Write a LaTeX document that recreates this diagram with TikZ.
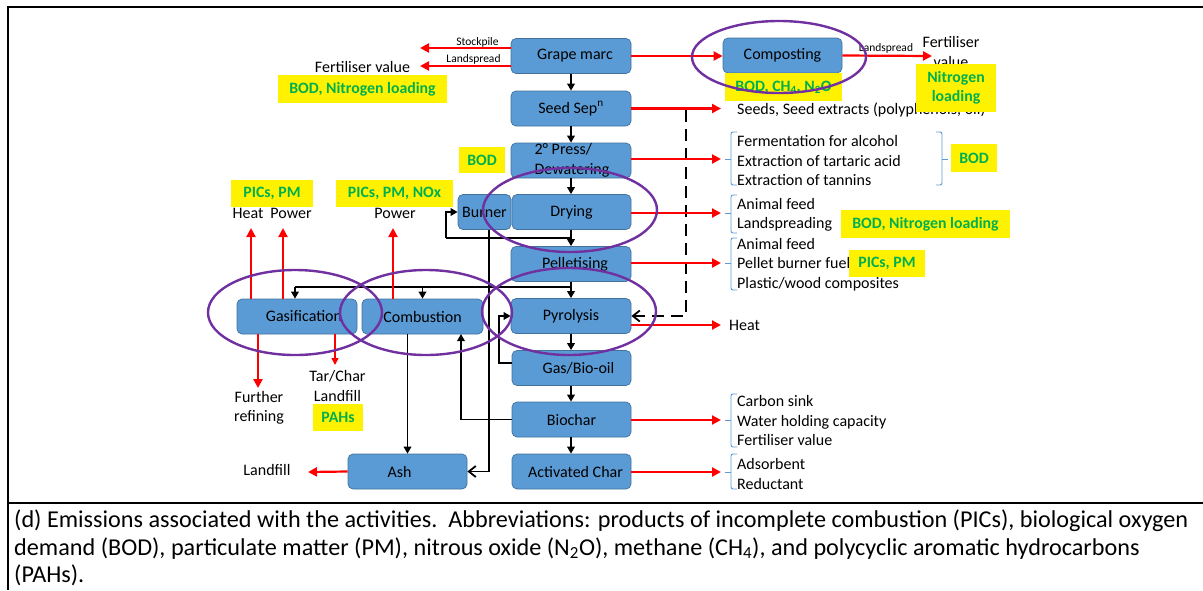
\documentclass[tikz,border=0pt]{standalone}
\usepackage{fontspec}
\setmainfont{Carlito}
\usetikzlibrary{arrows.meta}
\definecolor{boxblue}{HTML}{5B9BD5}
\definecolor{boxedge}{HTML}{41719C}
\definecolor{purp}{HTML}{7030A0}
\definecolor{grn}{HTML}{00B050}
\definecolor{brkblue}{HTML}{5B9BD5}
\newcommand{\fmain}{\fontsize{16}{19.5}\selectfont}
\newcommand{\fsmall}{\fontsize{11.5}{13}\selectfont}
\newcommand{\femis}{\bfseries\fontsize{15.8}{19.5}\selectfont}
\newcommand{\fcap}{\fontsize{24.2}{27.5}\selectfont}
\begin{document}
\begin{tikzpicture}[x=1pt,y=-1pt,
  proc/.style={draw=boxedge, line width=0.7pt, fill=boxblue, rounded corners=5pt,
    minimum width=120pt, minimum height=35pt, inner sep=0pt, font=\fmain},
  emis/.style={fill=yellow, text=grn, font=\femis, inner sep=0pt, align=center},
  lab/.style={font=\fmain, inner sep=0pt, align=left},
  labc/.style={font=\fmain, inner sep=0pt, align=center},
  small/.style={font=\fsmall, inner sep=0pt},
  rar/.style={draw=red, line width=2.2pt, -{Triangle[length=9pt,width=9pt]}},
  rarthin/.style={draw=red, line width=1.4pt, -{Triangle[length=7pt,width=7pt]}},
  bar/.style={draw=black, line width=1.8pt, -{Triangle[length=7pt,width=7.5pt]}},
  bline/.style={draw=black, line width=1.8pt},
  barb/.style={draw=black, line width=1.8pt, -{Straight Barb[length=7pt,width=11pt]}},
  ell/.style={draw=purp, line width=2.4pt},
  brk/.style={draw=brkblue, line width=0.9pt, rounded corners=2pt},
  frame/.style={draw=black, line width=2.5pt}
]
\useasboundingbox (0,0) rectangle (1203,590);

% frame
\draw[frame] (1203,7) -- (8,7) -- (8,590);
\draw[frame] (8,503) -- (1203,503);

% process boxes
\node[proc] (gm) at (571,56) {\hspace*{8pt}Grape marc};
\node[proc] (seed) at (571,108.5) {Seed Sep\textsuperscript{n}};
\node[proc] (press) at (571,160.5) {};
\node[proc, minimum width=53pt] (burner) at (484.5,212) {Burner};
\node[proc, minimum width=119pt] (dry) at (571.5,212) {Drying};
\node[proc] (pel) at (571,264) {\hspace*{8pt}Pelletising};
\node[proc] (pyro) at (571,316) {Pyrolysis};
\node[proc, minimum width=119pt] (gas) at (571.5,368) {\hspace*{14pt}Gas/Bio-oil};
\node[proc, minimum width=119pt] (bio) at (571.5,419.5) {Biochar};
\node[proc, minimum width=119pt] (act) at (571.5,471.5) {\hspace*{8pt}Activated Char};
\node[proc, minimum width=119pt] (ash) at (407.5,471.5) {Ash\hspace*{16pt}};
\node[proc] (gasi) at (297,316.5) {\hspace*{14pt}Gasification};
\node[proc, minimum width=121pt] (comb) at (422.5,316.5) {Combustion};
\node[proc, minimum width=119pt] (comp) at (782.5,55.5) {Composting};
\node[lab] (presst) at (572,160.5) {2° Press/\\Dewatering};

% black flow arrows
\draw[bar] (gm.south) -- (gm.south |- seed.north);
\draw[bar] (seed.south) -- (seed.south |- press.north);
\draw[bar] (press.south) -- (press.south |- dry.north);
\draw[bar] (pel.south |- dry.south) -- (pel.north);
\coordinate (bj) at (571,238);
\coordinate (bl) at (446,238);
\draw[bline] (bj) -- (bl);
\draw[bar] (bl) |- (burner.west);
\draw[bar] (pel.south) -- (pyro.north);
\coordinate (dj) at (571,287);
\coordinate (dl) at (295,287);
\draw[bline] (dj) -- (dl);
\draw[bar] (dl) -- (dl |- gasi.north);
\draw[bar] (comb.north |- dj) -- (comb.north);
\draw[bar] (pyro.south) -- (pyro.south |- gas.north);
\draw[bar] (pyro.south |- gas.south) -- (pyro.south |- bio.north);
\draw[bar] (pyro.south |- bio.south) -- (pyro.south |- act.north);
\coordinate (gf) at (499,316);
\draw[bar] ([yshift=5pt]gas.west) -| (gf) -- (pyro.west);
\coordinate (cb) at (461,334);
\draw[bar] (bio.west) -| (cb);
\draw[bar] (ash.north |- comb.south) -- (ash.north);
\draw[barb] ([xshift=4.5pt]burner.south) |- (ash.east);
\coordinate (dtop) at (686,110);
\coordinate (dc) at (686,316);
\draw[barb, dash pattern=on 12pt off 7pt] (dtop) -- (dc) -- (pyro.east);

% red arrows left of grape marc
\coordinate (stk) at (420,48);
\coordinate (lsp) at (420,66);
\draw[rar] (gm.west |- stk) -- (stk);
\draw[rar] (gm.west |- lsp) -- (lsp);
\node[small] (stkl) at (477.5,42) {Stockpile};
\node[small] (lspl) at (473.5,59.5) {Landspread};
\node[lab] (fertl) at (362.5,67) {Fertiliser value};

% composting
\draw[rar] (gm.east) -- (gm.east -| comp.west);
\coordinate (cf) at (932,56);
\draw[rar] (comp.east) -- (cf);
\node[small] (lspr) at (886,48) {Landspread};
\node[labc] (fertr) at (951,52) {Fertiliser\\value};

% right-hand outputs
\coordinate (sd) at (721,108.5);
\draw[rar] (seed.east) -- (sd);
\node[lab, anchor=west] (seeds) at (737,110) {Seeds, Seed extracts (polyphenols, oil)};

\coordinate (b1) at (721,159);
\draw[rar] (press.east |- b1) -- (b1);
\draw[brk] (737,132) -- (731,132) -- (731,185) -- (737,185);
\draw[brk] (731,159) -- (725,159);
\node[lab, anchor=west] (lp) at (737,160.5) {Fermentation for alcohol\\Extraction of tartaric acid\\Extraction of tannins};
\draw[brk] (936,132) -- (942,132) -- (942,185) -- (936,185);
\draw[brk] (942,159) -- (948,159);

\coordinate (b2) at (721,213);
\draw[rar] (dry.east |- b2) -- (b2);
\draw[brk] (737,195) -- (731,195) -- (731,233) -- (737,233);
\draw[brk] (731,213) -- (725,213);
\node[lab, anchor=west] (ld) at (737,215) {Animal feed\\Landspreading};

\coordinate (b3) at (721,263);
\draw[rar] (pel.east |- b3) -- (b3);
\draw[brk] (737,238) -- (731,238) -- (731,290) -- (737,290);
\draw[brk] (731,263) -- (725,263);
\node[lab, anchor=west] (lpe) at (737,264.5) {Animal feed\\Pellet burner fuel\\Plastic/wood composites};

\coordinate (ht) at (721,325);
\draw[rar] (pyro.east |- ht) -- (ht);
\node[lab, anchor=west] (heatr) at (729,325) {Heat};

\coordinate (b4) at (721,420);
\draw[rar] (bio.east |- b4) -- (b4);
\draw[brk] (737,394) -- (731,394) -- (731,447) -- (737,447);
\draw[brk] (731,420) -- (725,420);
\node[lab, anchor=west] (lb) at (737,420.5) {Carbon sink\\Water holding capacity\\Fertiliser value};

\coordinate (b5) at (721,472);
\draw[rar] (act.east |- b5) -- (b5);
\draw[brk] (737,454) -- (731,454) -- (731,489) -- (737,489);
\draw[brk] (731,472) -- (725,472);
\node[lab, anchor=west] (la) at (737,474) {Adsorbent\\Reductant};

% gasification / combustion outputs
\coordinate (h1) at (251,228);
\coordinate (h2) at (283,228);
\coordinate (p2) at (393,228);
\draw[rar] (h1 |- gasi.north) -- (h1);
\draw[rar] (h2 |- gasi.north) -- (h2);
\draw[rar] (p2 |- comb.north) -- (p2);
\node[lab] (heat1) at (248,213) {Heat};
\node[lab] (power1) at (291,213) {Power};
\node[lab] (power2) at (395,213) {Power};
\coordinate (fr) at (258,388);
\coordinate (tc) at (335,365);
\draw[rar] (fr |- gasi.south) -- (fr);
\draw[rarthin] (tc |- gasi.south) -- (tc);
\node[labc] (further) at (259,408) {Further\\refining};
\node[labc] (tarchar) at (337.5,386) {Tar/Char\\Landfill};
\coordinate (lf) at (308,472);
\draw[rar] (ash.west) -- (lf);
\node[lab] (landf) at (267,470) {Landfill};

% emission labels
\node[emis, minimum width=169pt, minimum height=28pt] (e1) at (362.5,89) {BOD, Nitrogen loading};
\node[emis, minimum width=46pt, minimum height=26pt] (e2) at (482,160) {BOD};
\node[emis, minimum width=82pt, minimum height=27pt] (e3) at (272,193.5) {PICs, PM};
\node[emis, minimum width=117pt, minimum height=27pt] (e4) at (394.5,193.5) {PICs, PM, NOx};
\node[emis, minimum width=50pt, minimum height=27pt] (e5) at (338,417.5) {PAHs};
\node[emis, minimum width=117pt, minimum height=28pt] (e6) at (783.5,87) {BOD, CH\textsubscript{4}, N\textsubscript{2}O};
\node[emis, minimum width=80pt, minimum height=48pt] (e7) at (956,88) {Nitrogen\\loading};
\node[emis, minimum width=46pt, minimum height=28pt] (e8) at (974,158) {BOD};
\node[emis, minimum width=169pt, minimum height=28pt] (e9) at (925.5,224) {BOD, Nitrogen loading};
\node[emis, minimum width=76pt, minimum height=27pt] (e10) at (887,263.5) {PICs, PM};

% highlight ellipses
\draw[ell] (779,57) ellipse [x radius=87, y radius=36];
\draw[ell] (570,210) ellipse [x radius=87, y radius=42];
\draw[ell] (569,311.5) ellipse [x radius=87, y radius=43.5];
\draw[ell] (295,312.5) ellipse [x radius=87, y radius=42.5];
\draw[ell] (426,312.5) ellipse [x radius=86, y radius=42.5];

% caption
\node[font=\fcap, inner sep=0pt, align=left, anchor=west] (cap) at (14,548)
 {(d) Emissions associated with the activities.\ \ Abbreviations: products of incomplete combustion (PICs), biological oxygen\\
  demand (BOD), particulate matter (PM), nitrous oxide (N\textsubscript{2}O), methane (CH\textsubscript{4}), and polycyclic aromatic hydrocarbons\\
  (PAHs).};
\end{tikzpicture}
\end{document}
